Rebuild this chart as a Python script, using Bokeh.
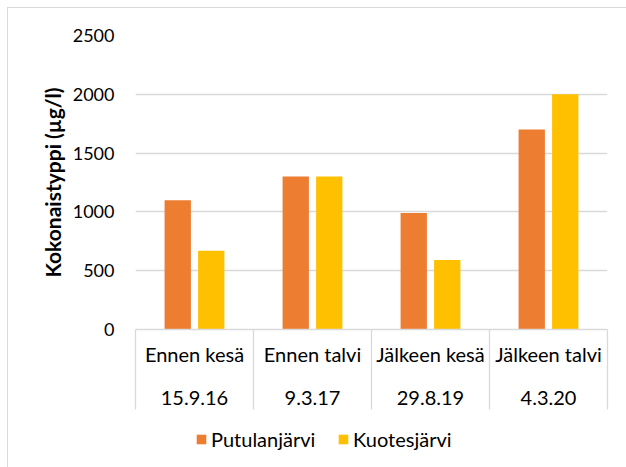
from bokeh.plotting import figure
from bokeh.models import (ColumnDataSource, Range1d, LinearAxis, FixedTicker,
                          Legend, LegendItem)
from bokeh.layouts import column
from bokeh.transform import dodge
from bokeh.embed import file_html
from bokeh.resources import INLINE

# ---- data ----
categories = ["Ennen kesä", "Ennen talvi", "Jälkeen kesä", "Jälkeen talvi"]
dates = ["15.9.16", "9.3.17", "29.8.19", "4.3.20"]
putulanjarvi = [1100, 1300, 990, 1700]
kuotesjarvi = [670, 1300, 590, 2000]
y_ticks = [0, 500, 1000, 1500, 2000, 2500]
series_names = ["Putulanjärvi", "Kuotesjärvi"]

# ---- style ----
FONT = "Lato"
FS = "18px"
FSX = "20px"
ORANGE = "#ED7D31"
YELLOW = "#FFC000"
GRID = "#D9D9D9"
TXT = "#000000"
BOX_DEPTH = 80

n = len(categories)
centers = [i + 0.5 for i in range(n)]
bounds = [float(i) for i in range(n + 1)]

src = ColumnDataSource(dict(x=centers, p=putulanjarvi, k=kuotesjarvi))

p = figure(width=618, height=412,
           x_range=Range1d(0, n), y_range=Range1d(y_ticks[0], y_ticks[-1]),
           output_backend="svg", toolbar_location=None,
           x_axis_location=None,
           min_border_top=27, min_border_left=127, min_border_right=19,
           min_border_bottom=91)
p.outline_line_color = None
p.background_fill_color = "white"
p.border_fill_color = "white"

r1 = p.vbar(x=dodge("x", -0.142), top="p", width=0.223, source=src,
            fill_color=ORANGE, line_color=None)
r2 = p.vbar(x=dodge("x", 0.142), top="k", width=0.223, source=src,
            fill_color=YELLOW, line_color=None)

# y axis
yax = p.yaxis[0]
yax.ticker = FixedTicker(ticks=y_ticks)
yax.axis_line_color = None
yax.major_tick_line_color = None
yax.minor_tick_line_color = None
yax.major_label_text_font = FONT
yax.major_label_text_font_size = FS
yax.major_label_text_color = TXT
yax.major_label_standoff = 15
yax.axis_label = "Kokonaistyppi (µg/l)"
yax.axis_label_text_font = FONT
yax.axis_label_text_font_size = "21px"
yax.axis_label_text_font_style = "bold"
yax.axis_label_text_color = TXT
yax.axis_label_standoff = 5

p.ygrid.ticker = FixedTicker(ticks=y_ticks)
p.ygrid.grid_line_color = GRID
p.ygrid.grid_line_width = 1.3
p.xgrid.visible = False


def overrides(labels):
    d = {}
    for c, lab in zip(centers, labels):
        d[c] = lab
        d[str(c)] = lab
    return d


# category axis (row 1) with box separators drawn as long minor ticks
ax1 = LinearAxis(ticker=FixedTicker(ticks=centers, minor_ticks=bounds),
                 major_label_overrides=overrides(categories))
ax1.axis_line_color = GRID
ax1.axis_line_width = 1.3
ax1.major_tick_out = 0
ax1.major_tick_in = 0
ax1.minor_tick_in = 0
ax1.minor_tick_out = BOX_DEPTH
ax1.minor_tick_line_color = GRID
ax1.minor_tick_line_width = 1.3
ax1.major_label_standoff = 12 - BOX_DEPTH
ax1.major_label_text_font = FONT
ax1.major_label_text_font_size = FSX
ax1.major_label_text_color = TXT
p.add_layout(ax1, "below")

# date axis (row 2)
ax2 = LinearAxis(ticker=FixedTicker(ticks=centers),
                 major_label_overrides=overrides(dates))
ax2.axis_line_color = None
ax2.major_tick_line_color = None
ax2.minor_tick_line_color = None
ax2.major_label_standoff = 16
ax2.major_label_text_font = FONT
ax2.major_label_text_font_size = FSX
ax2.major_label_text_color = TXT
p.add_layout(ax2, "below")

# legend strip (zero-width bars carry the series styles for the legend)
lg = figure(width=618, height=47, x_range=Range1d(0, n), y_range=Range1d(-2, -1),
            output_backend="svg", toolbar_location=None,
            x_axis_location=None, y_axis_location=None,
            min_border_top=0, min_border_left=0, min_border_right=0,
            min_border_bottom=0)
lg.outline_line_color = None
lg.xgrid.visible = False
lg.ygrid.visible = False
lr1 = lg.vbar(x="x", top="p", width=0, source=src, fill_color=ORANGE, line_color=None)
lr2 = lg.vbar(x="x", top="k", width=0, source=src, fill_color=YELLOW, line_color=None)


def make_legend(label, renderer, loc):
    leg = Legend(items=[LegendItem(label=label, renderers=[renderer])],
                 orientation="horizontal", location=loc)
    leg.label_text_font = FONT
    leg.label_text_font_size = FSX
    leg.label_text_color = TXT
    leg.glyph_width = 12
    leg.glyph_height = 12
    leg.label_standoff = 4
    leg.padding = 6
    leg.margin = 0
    leg.border_line_color = None
    leg.background_fill_alpha = 0
    return leg


lg.add_layout(make_legend(series_names[0], lr1, (60, 16)), "center")
lg.add_layout(make_legend(series_names[1], lr2, (202, 16)), "center")

layout = column(p, lg, spacing=0)
layout.styles = {"border-top": "1px solid #D9D9D9", "border-left": "1px solid #D9D9D9",
                 "margin-left": "7px", "margin-top": "7px"}

open("out.html", "w").write(file_html(layout, INLINE))
